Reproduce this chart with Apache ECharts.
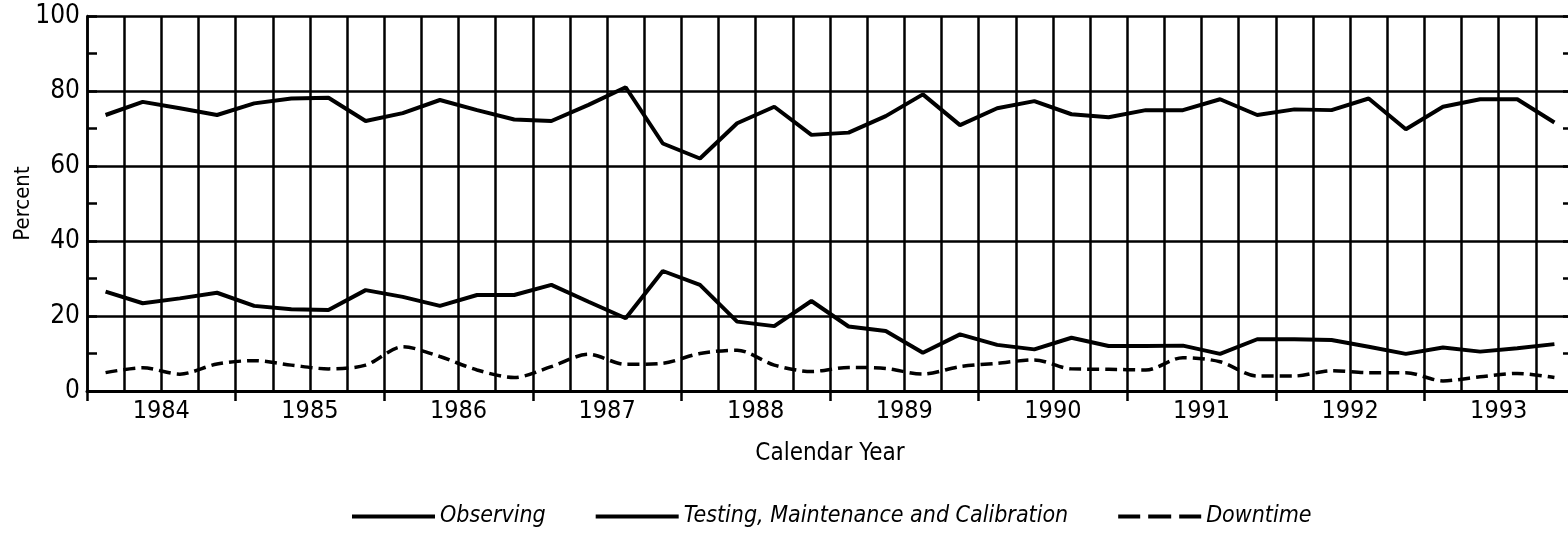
<!DOCTYPE html>
<html>
<head>
<meta charset="utf-8">
<title>Observing time</title>
<script src="https://cdn.jsdelivr.net/npm/echarts@6/dist/echarts.min.js"></script>
<style>
  html, body { margin: 0; padding: 0; background: #fff; }
  #chart { width: 1568px; height: 534px; }
</style>
</head>
<body>
<div id="chart"></div>
<script>
// data, one value per quarter
const years = ['1984', '1985', '1986', '1987', '1988', '1989', '1990', '1991', '1992', '1993'];
const quarterNames = ['Q1', 'Q2', 'Q3', 'Q4'];
const yTicks = [0, 20, 40, 60, 80, 100];

const observing = [73.6, 77.1, 75.4, 73.6, 76.7, 78.0, 78.2, 72.0, 74.1, 77.6,
  74.9, 72.4, 72.0, 76.3, 81.0, 66.0, 62.0, 71.4, 75.8, 68.3,
  68.9, 73.3, 79.1, 70.9, 75.4, 77.3, 73.8, 73.0, 74.9, 74.9,
  77.8, 73.6, 75.1, 74.9, 78.0, 69.8, 75.8, 77.8, 77.8, 71.6];
const testing = [26.5, 23.4, 24.7, 26.2, 22.7, 21.8, 21.6, 26.9, 25.1, 22.7,
  25.6, 25.6, 28.3, 23.8, 19.4, 32.0, 28.3, 18.5, 17.3, 24.0,
  17.2, 16.0, 10.2, 15.1, 12.3, 11.1, 14.2, 12.0, 12.0, 12.1,
  9.9, 13.8, 13.8, 13.6, 11.8, 9.9, 11.6, 10.5, 11.4, 12.5];
const downtime = [4.9, 6.2, 4.5, 7.2, 8.1, 6.9, 5.9, 6.9, 11.8, 9.2,
  5.6, 3.6, 6.5, 9.8, 7.1, 7.4, 10.0, 10.9, 6.9, 5.2,
  6.3, 6.0, 4.5, 6.5, 7.4, 8.3, 5.9, 5.8, 5.6, 8.9,
  7.8, 4.0, 4.0, 5.4, 4.9, 4.9, 2.7, 3.8, 4.7, 3.6];

const quarters = [];
years.forEach(y => quarterNames.forEach(q => quarters.push(y + ' ' + q)));

const FONT = '"DejaVu Sans Condensed", "Liberation Sans", sans-serif';
const INK = '#000';

// legend keys: plain bar and a three-dash bar, no point marker
const SOLID_KEY = 'path://M0,0H83V4H0Z';
const DASH_KEY = 'path://M0,0H22V4H0Z M30,0H53V4H30Z M61,0H83V4H61Z';

const chart = echarts.init(document.getElementById('chart'));

const option = {
  animation: false,
  backgroundColor: '#fff',
  grid: {
    left: 87,
    top: 16,
    width: 1486, // right edge runs a few px past the picture
    height: 375,
    outerBoundsMode: 'none'
  },
  legend: {
    left: 347,
    top: 500,
    itemWidth: 83,
    itemHeight: 4,
    itemGap: 50,
    symbolKeepAspect: false,
    textStyle: { fontFamily: FONT, fontSize: 23, fontStyle: 'italic', color: INK },
    data: [
      { name: 'Observing', icon: SOLID_KEY },
      { name: 'Testing, Maintenance and Calibration', icon: SOLID_KEY },
      { name: 'Downtime', icon: DASH_KEY }
    ]
  },
  xAxis: [
    {
      // quarter grid lines
      type: 'category',
      data: quarters,
      boundaryGap: true,
      axisLine: { show: true, lineStyle: { color: INK, width: 3 } },
      axisTick: { show: false },
      axisLabel: { show: false },
      splitLine: { show: true, interval: 0, lineStyle: { color: INK, width: 2.5 } }
    },
    {
      // year labels and the long ticks between years
      type: 'category',
      data: years,
      position: 'bottom',
      boundaryGap: true,
      axisLine: { show: false },
      axisTick: { show: true, interval: 0, length: 10, lineStyle: { color: INK, width: 2.5 } },
      axisLabel: { margin: 8, fontFamily: FONT, fontSize: 25, color: INK },
      splitLine: { show: false },
      name: 'Calendar Year',
      nameLocation: 'middle',
      nameGap: 51,
      nameMoveOverlap: false,
      nameTextStyle: { fontFamily: FONT, fontSize: 24, color: INK }
    }
  ],
  yAxis: [
    {
      type: 'value',
      position: 'left',
      min: yTicks[0],
      max: yTicks[yTicks.length - 1],
      interval: 20,
      axisLine: { show: true, lineStyle: { color: INK, width: 2.5 } },
      axisTick: { show: true, inside: true, length: 10, lineStyle: { color: INK, width: 2.5 } },
      minorTick: { show: true, splitNumber: 2, length: 10, lineStyle: { color: INK, width: 2.5 } },
      splitLine: { show: true, lineStyle: { color: INK, width: 2.5 } },
      axisLabel: { margin: 7, fontFamily: FONT, fontSize: 26, color: INK },
      name: 'Percent',
      nameLocation: 'middle',
      nameGap: 53,
      nameMoveOverlap: false,
      nameTextStyle: { fontFamily: FONT, fontSize: 22, color: INK }
    },
    {
      type: 'value',
      position: 'right',
      min: yTicks[0],
      max: yTicks[yTicks.length - 1],
      interval: 20,
      axisLine: { show: true, lineStyle: { color: INK, width: 2.5 } },
      axisTick: { show: true, inside: true, length: 10, lineStyle: { color: INK, width: 2.5 } },
      minorTick: { show: true, splitNumber: 2, length: 10, lineStyle: { color: INK, width: 2.5 } },
      splitLine: { show: false },
      axisLabel: { show: false }
    }
  ],
  series: [
    {
      name: 'Observing',
      type: 'line',
      xAxisIndex: 0,
      yAxisIndex: 0,
      data: observing,
      symbol: 'none',
      itemStyle: { color: INK },
      lineStyle: { color: INK, width: 4 }
    },
    {
      name: 'Testing, Maintenance and Calibration',
      type: 'line',
      xAxisIndex: 0,
      yAxisIndex: 0,
      data: testing,
      symbol: 'none',
      itemStyle: { color: INK },
      lineStyle: { color: INK, width: 4 }
    },
    {
      name: 'Downtime',
      type: 'line',
      xAxisIndex: 0,
      yAxisIndex: 0,
      data: downtime,
      symbol: 'none',
      smooth: 0.3,
      itemStyle: { color: INK },
      lineStyle: { color: INK, width: 3.5, type: [12, 6] }
    }
  ]
};

chart.setOption(option);
window.addEventListener('resize', () => chart.resize());
</script>
</body>
</html>
